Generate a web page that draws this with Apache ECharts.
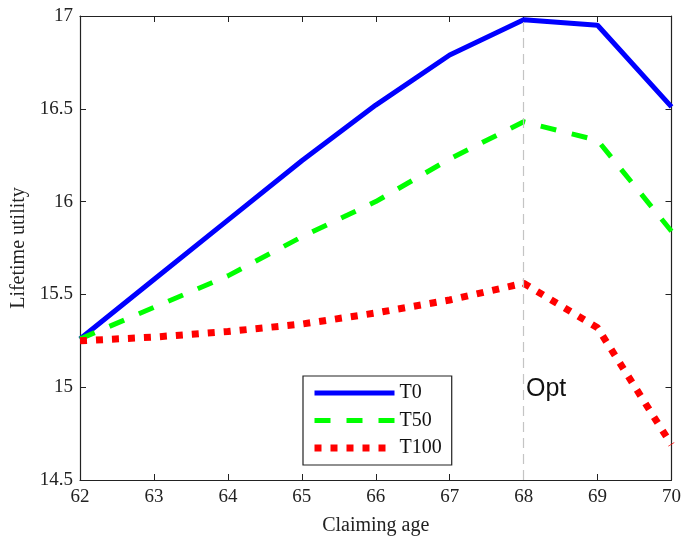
<!DOCTYPE html>
<html><head><meta charset="utf-8">
<script src="https://cdn.jsdelivr.net/npm/echarts@6/dist/echarts.min.js"></script>
<style>html,body{margin:0;padding:0;background:#fff;overflow:hidden}#c{width:684px;height:541px}</style>
</head><body><div id="c"></div>
<script>
const ages = [62, 63, 64, 65, 66, 67, 68, 69, 70];
const t0   = [15.26, 15.58, 15.90, 16.22, 16.52, 16.79, 16.98, 16.95, 16.51];
const t50  = [15.26, 15.43, 15.60, 15.81, 16.00, 16.23, 16.43, 16.33, 15.84];
const t100 = [15.25, 15.27, 15.30, 15.34, 15.40, 15.47, 15.56, 15.32, 14.69];
const optAge = 68;

const serif = 'Liberation Serif';
const chart = echarts.init(document.getElementById('c'));
const pts = a => ages.map((x, i) => [x, a[i]]);
const tickStyle = {lineStyle: {color: '#222', width: 1}};
chart.setOption({
  animation: false,
  grid: {left: 80, right: 9, top: 16, bottom: 57},
  xAxis: [{
    type: 'value', min: 62, max: 70, interval: 1,
    name: 'Claiming age', nameLocation: 'middle', nameGap: 36,
    nameTextStyle: {fontFamily: serif, fontSize: 20, color: '#222'},
    axisLine: {show: true, onZero: false, lineStyle: {color: '#222', width: 1.2}},
    axisTick: {show: true, inside: true, length: 6, ...tickStyle},
    axisLabel: {fontFamily: serif, fontSize: 19, color: '#222', margin: 8},
    splitLine: {show: false}
  }, {
    type: 'value', min: 62, max: 70, interval: 1, position: 'top',
    axisLine: {show: true, onZero: false, lineStyle: {color: '#222', width: 1.2}},
    axisTick: {show: true, inside: true, length: 6, ...tickStyle},
    axisLabel: {show: false}, splitLine: {show: false}
  }],
  yAxis: [{
    type: 'value', min: 14.5, max: 17, interval: 0.5,
    name: 'Lifetime utility', nameLocation: 'middle', nameGap: 50,
    nameTextStyle: {fontFamily: serif, fontSize: 20, color: '#222'},
    axisLine: {show: true, onZero: false, lineStyle: {color: '#222', width: 1.2}},
    axisTick: {show: true, inside: true, length: 6, ...tickStyle},
    axisLabel: {fontFamily: serif, fontSize: 19, color: '#222', margin: 7},
    splitLine: {show: false}
  }, {
    type: 'value', min: 14.5, max: 17, interval: 0.5, position: 'right',
    axisLine: {show: true, onZero: false, lineStyle: {color: '#222', width: 1.2}},
    axisTick: {show: true, inside: true, length: 6, ...tickStyle},
    axisLabel: {show: false}, splitLine: {show: false}
  }],
  legend: {
    left: 303, top: 376, width: 149, orient: 'vertical',
    padding: [7, 10, 7, 8], itemGap: 7.5, itemWidth: 80, itemHeight: 20,
    borderColor: '#222', borderWidth: 1.2, backgroundColor: '#fff',
    itemStyle: {opacity: 0},
    lineStyle: {width: 'inherit'},
    textStyle: {fontFamily: serif, fontSize: 20, color: '#111', padding: [0, 0, 0, 0]},
    data: ['T0', 'T50', 'T100']
  },
  series: [
    {name: 'T0', type: 'line', data: pts(t0), symbol: 'none', z: 3,
     lineStyle: {color: '#0000ff', width: 5}, itemStyle: {color: '#0000ff'},
     markLine: {silent: true, symbol: 'none', label: {show: false},
       lineStyle: {color: '#c4c4c4', width: 1.2, type: [10, 6]},
       data: [{xAxis: optAge}]}},
    {name: 'T50', type: 'line', data: pts(t50), symbol: 'none', z: 3,
     lineStyle: {color: '#00ff00', width: 5, type: [16, 16]}, itemStyle: {color: '#00ff00'}},
    {name: 'T100', type: 'line', data: pts(t100), symbol: 'none', z: 3,
     lineStyle: {color: '#ff0000', width: 7, type: [7, 9]}, itemStyle: {color: '#ff0000'}}
  ],
  graphic: [{type: 'text', left: 526, top: 377,
    style: {text: 'Opt', font: '25px "Liberation Sans"', fill: '#111'}}]
});
</script></body></html>
